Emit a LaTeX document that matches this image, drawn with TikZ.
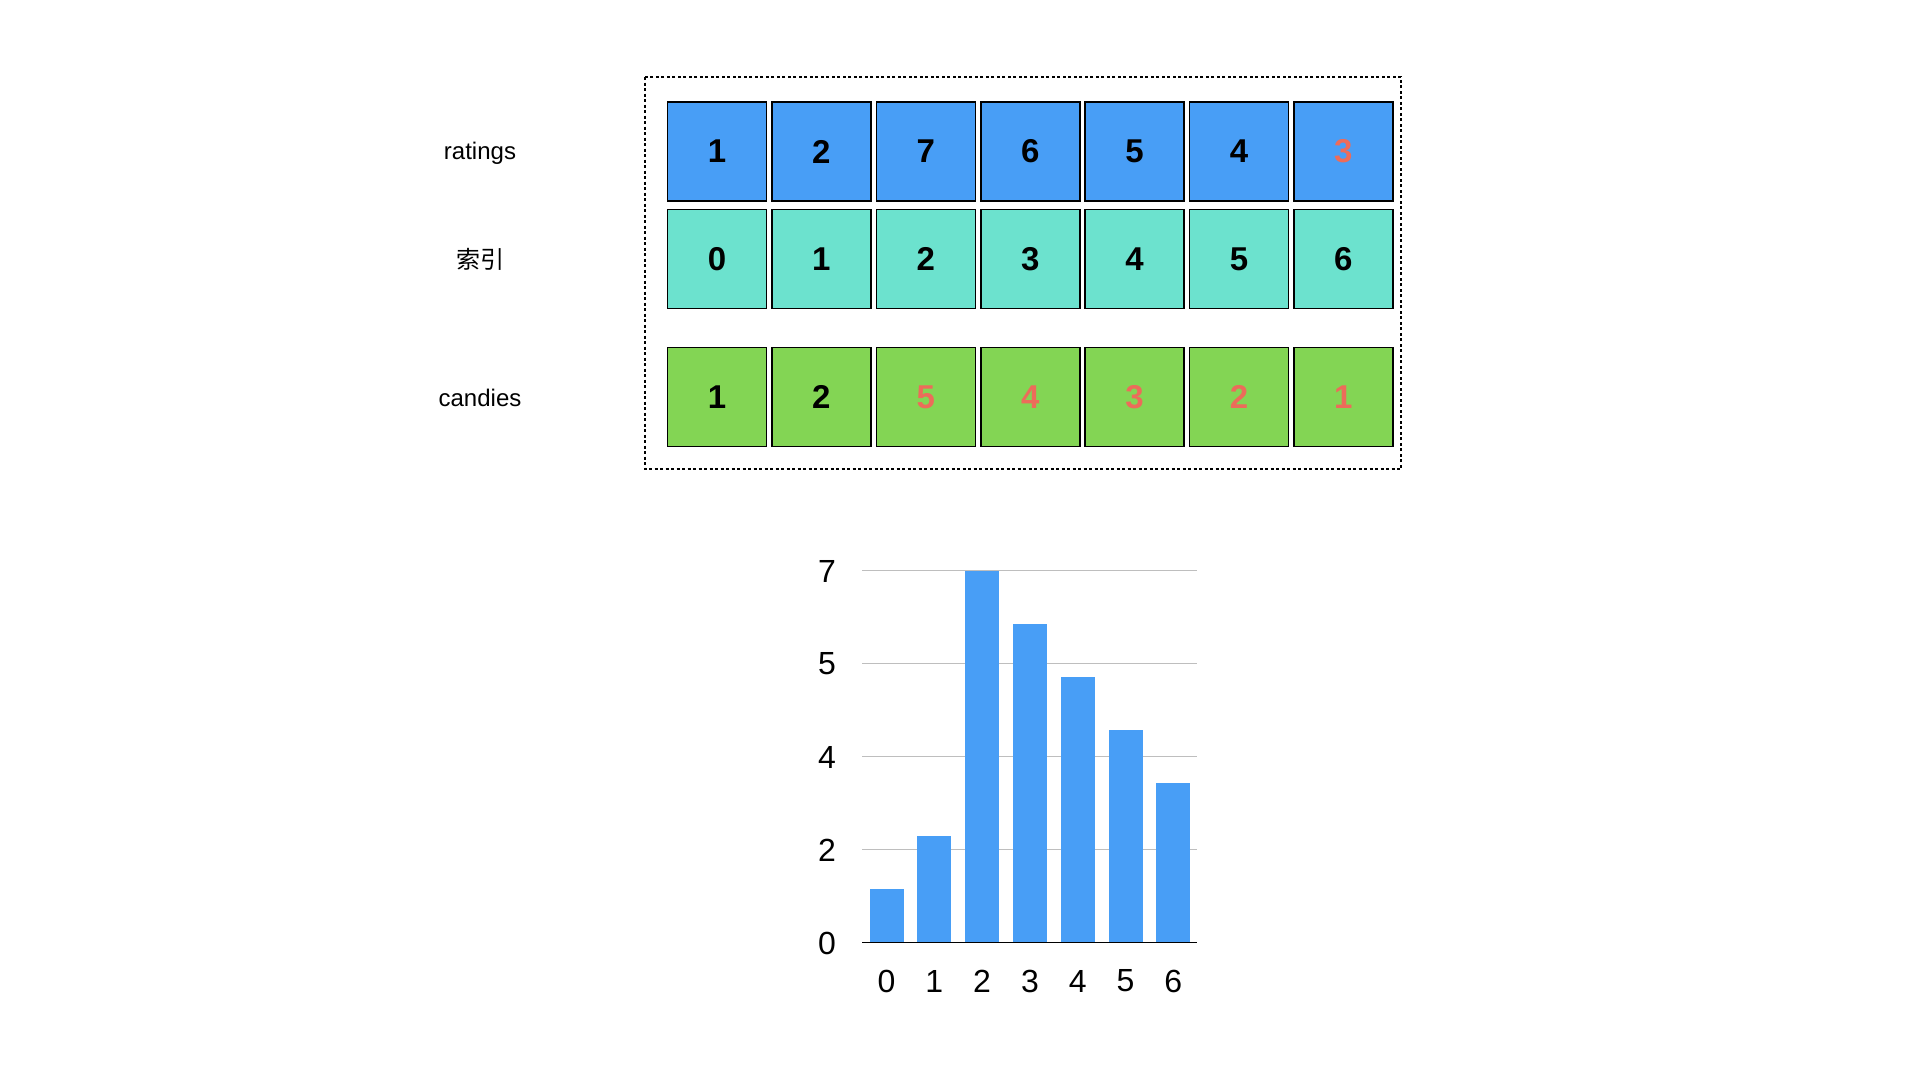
\documentclass[tikz,border=0pt]{standalone}
\usepackage{fontspec}
\setmainfont{Liberation Sans}
\newfontfamily\cjk{Noto Sans CJK SC}
\definecolor{cblue}{RGB}{72,158,246}
\definecolor{cteal}{RGB}{108,226,206}
\definecolor{cgreen}{RGB}{131,213,84}
\definecolor{cred}{RGB}{236,108,90}
\definecolor{cgrid}{RGB}{190,190,190}
\begin{document}
\begin{tikzpicture}[x=1pt,y=-1pt,
  cell/.style={draw=black, line width=1.6pt, minimum width=99pt, minimum height=99pt,
    inner sep=0pt, font=\fontsize{33}{36}\selectfont\bfseries},
  rcell/.style={cell, fill=cblue},
  icell/.style={cell, fill=cteal},
  ccell/.style={cell, fill=cgreen},
  hl/.style={text=cred},
  rowlabel/.style={font=\fontsize{24}{28}\selectfont, inner sep=0pt},
  axislabel/.style={font=\fontsize{32}{36}\selectfont, inner sep=0pt},
  frame/.style={draw=black, line width=1.5pt, dash pattern=on 3pt off 2.5pt},
  grid line/.style={draw=cgrid, line width=1pt},
  bar/.style={fill=cblue}
]
\useasboundingbox (0,0) rectangle (1920,1080);
% dashed frame
\draw[frame] (645,77) rectangle (1401,469);
% row labels
\node[rowlabel] (lr) at (480,153) {ratings};
\node[rowlabel] (li) at (480,259) {\cjk 索引};
\node[rowlabel] (lc) at (480,398) {candies};
% ratings row
\foreach \v [count=\k from 0] in {1,2,7,6,5,4} {
  \node[rcell] (r\k) at (717+104.4*\k,151.5) {\v};
}
\node[rcell,hl] (r6) at (717+104.4*6,151.5) {3};
% index row
\foreach \v [count=\k from 0] in {0,1,2,3,4,5,6} {
  \node[icell] (i\k) at (717+104.4*\k,259) {\v};
}
% candies row
\node[ccell] (c0) at (717,397) {1};
\node[ccell] (c1) at (717+104.4,397) {2};
\foreach \v [count=\k from 2] in {5,4,3,2,1} {
  \node[ccell,hl] (c\k) at (717+104.4*\k,397) {\v};
}
% bar chart grid
\foreach \yy in {570.3,663.3,756.3,849.3} {
  \draw[grid line] (862,\yy) -- (1197,\yy);
}
% bars
\foreach \h [count=\k from 0] in {1,2,7,6,5,4,3} {
  \fill[bar] (869.5+47.8*\k,942.3) rectangle (903.5+47.8*\k,942.3-53*\h);
}
\draw[black, line width=1.2pt] (862,942.3) -- (1197,942.3);
% y labels
\node[axislabel] (y7) at (827,571) {7};
\node[axislabel] (y5) at (827,664) {5};
\node[axislabel] (y4) at (827,757) {4};
\node[axislabel] (y2) at (827,850) {2};
\node[axislabel] (y0) at (827,943) {0};
% x labels
\foreach \v in {0,...,6} {
  \node[axislabel] (x\v) at (886.5+47.8*\v,981) {\v};
}
\end{tikzpicture}
\end{document}
